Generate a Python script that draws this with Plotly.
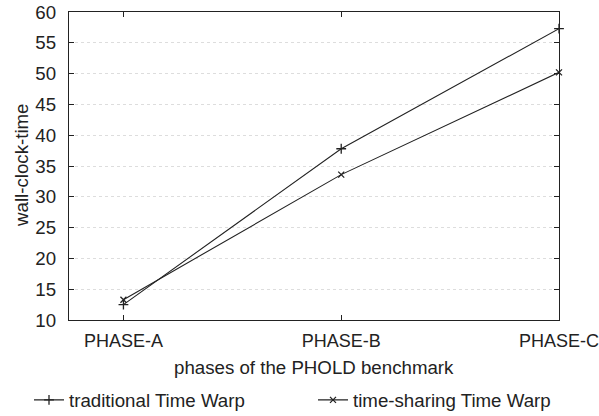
import plotly.graph_objects as go

phases = ["PHASE-A", "PHASE-B", "PHASE-C"]
traditional = [12.5, 37.8, 57.3]
time_sharing = [13.3, 33.6, 50.2]

font = "Liberation Sans, Arial, sans-serif"
ink = "#222222"
fs = 18.7
fig = go.Figure()
fig.add_trace(go.Scatter(
    x=[0, 1, 2], y=traditional, mode="lines+markers", name="traditional Time Warp",
    line=dict(color=ink, width=1.1),
    marker=dict(symbol="cross-thin", size=7, line=dict(color=ink, width=1.3)),
    cliponaxis=False, legend="legend"))
fig.add_trace(go.Scatter(
    x=[0, 1, 2], y=time_sharing, mode="lines+markers", name="time-sharing Time Warp",
    line=dict(color=ink, width=1.1),
    marker=dict(symbol="x-thin", size=6, line=dict(color=ink, width=1.3)),
    cliponaxis=False, legend="legend2"))

leg_common = dict(orientation="h", xref="container", yref="container",
                  xanchor="left", y=0.038, yanchor="middle",
                  font=dict(size=fs, family=font, color=ink), bgcolor="rgba(0,0,0,0)")

fig.update_layout(
    width=599, height=416,
    margin=dict(l=69, r=40, t=12, b=96, autoexpand=False),
    paper_bgcolor="white", plot_bgcolor="white",
    font=dict(family=font, size=fs, color=ink),
    showlegend=True,
    legend=dict(x=29 / 599, **leg_common),
    legend2=dict(x=313 / 599, **leg_common),
    xaxis=dict(
        range=[-0.25, 2], tickmode="array", tickvals=[0, 1, 2], ticktext=phases,
        showline=True, linecolor=ink, linewidth=1.2, mirror="ticks",
        ticks="inside", ticklen=5, tickcolor=ink, showgrid=False, zeroline=False,
        tickfont=dict(size=18), automargin=False, ticklabeloverflow="allow",
        ticklabelstandoff=4,
    ),
    yaxis=dict(
        range=[10, 60], tickmode="array", tickvals=list(range(10, 65, 5)),
        showline=True, linecolor=ink, linewidth=1.2, mirror="ticks",
        ticks="inside", ticklen=5, tickcolor=ink,
        showgrid=True, gridcolor="#dddddd", griddash="dot", gridwidth=1, zeroline=False,
        tickfont=dict(size=fs), automargin=False, ticklabelstandoff=8,
    ),
    annotations=[
        dict(text="phases of the PHOLD benchmark", xref="paper", yref="paper",
             x=0.5, y=-(367 - 320) / 308, xanchor="center", yanchor="middle",
             showarrow=False, font=dict(size=fs, family=font, color=ink)),
        dict(text="wall-clock-time", xref="paper", yref="paper",
             x=-(69 - 21) / 490, y=(320 - 165) / 308, xanchor="center", yanchor="middle",
             textangle=-90, showarrow=False, font=dict(size=fs, family=font, color=ink)),
    ],
)
fig.write_html("out.html")
